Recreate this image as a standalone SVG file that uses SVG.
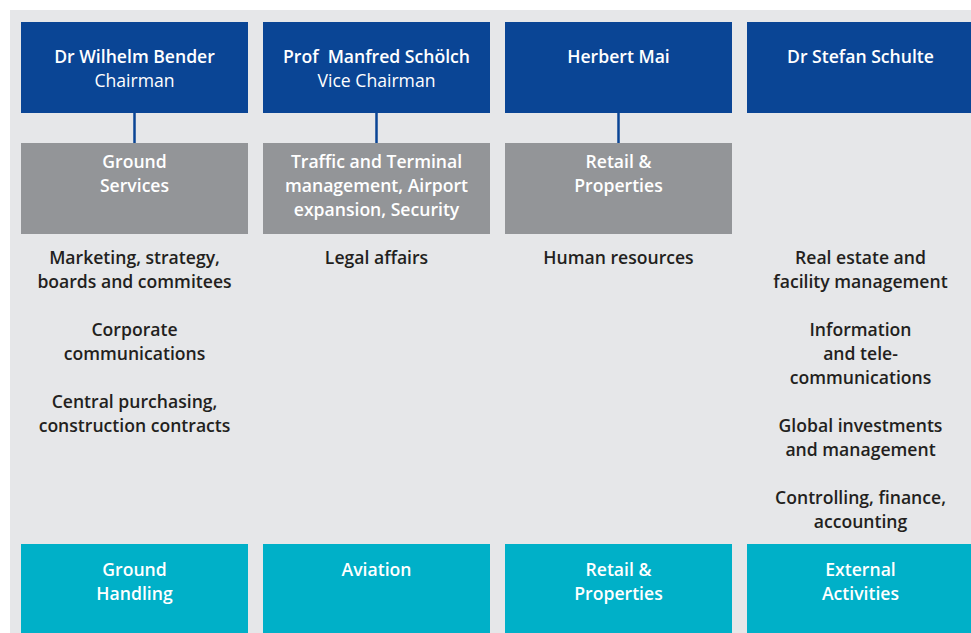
<svg xmlns="http://www.w3.org/2000/svg" width="971" height="633" viewBox="0 0 971 633">
  <style>
    .head { fill: #0a4595; }
    .unit { fill: #939598; }
    .seg { fill: #00b0c8; }
    text { font-family: "Open Sans", "Liberation Sans", sans-serif; font-size: 17.6px; text-anchor: middle; white-space: pre; }
    .w { fill: #ffffff; font-weight: 600; }
    .wl { fill: #ffffff; font-weight: 400; }
    .d { fill: #231f20; font-weight: 600; }
    .link { stroke: #0a4595; stroke-width: 2.5; fill: none; }
  </style>
  <rect x="0" y="0" width="971" height="633" fill="#ffffff"/>
  <rect x="10" y="10" width="961" height="623" fill="#e6e7e9"/>

  <g id="connectors">
    <line class="link" x1="134.5" y1="113" x2="134.5" y2="143"/>
    <line class="link" x1="376.5" y1="113" x2="376.5" y2="143"/>
    <line class="link" x1="618.5" y1="113" x2="618.5" y2="143"/>
  </g>

  <!-- Board members -->
  <g id="bender">
    <rect class="head" x="21" y="22" width="227" height="91"/>
    <text class="w" x="134.5" y="62.5">Dr Wilhelm Bender</text>
    <text class="wl" x="134.5" y="86.5">Chairman</text>
  </g>
  <g id="schoelch">
    <rect class="head" x="263" y="22" width="227" height="91"/>
    <text class="w" x="376.5" y="62.5" xml:space="preserve">Prof  Manfred Schölch</text>
    <text class="wl" x="376.5" y="86.5">Vice Chairman</text>
  </g>
  <g id="mai">
    <rect class="head" x="505" y="22" width="227" height="91"/>
    <text class="w" x="618.5" y="62.5">Herbert Mai</text>
  </g>
  <g id="schulte">
    <rect class="head" x="747" y="22" width="227" height="91"/>
    <text class="w" x="860.5" y="62.5">Dr Stefan Schulte</text>
  </g>

  <!-- Service units -->
  <g id="ground-services">
    <rect class="unit" x="21" y="143" width="227" height="91"/>
    <text class="w" x="134.5" y="167.5">Ground</text>
    <text class="w" x="134.5" y="191.5">Services</text>
  </g>
  <g id="traffic-terminal">
    <rect class="unit" x="263" y="143" width="227" height="91"/>
    <text class="w" x="376.5" y="167.5">Traffic and Terminal</text>
    <text class="w" x="376.5" y="191.5">management, Airport</text>
    <text class="w" x="376.5" y="215.5">expansion, Security</text>
  </g>
  <g id="retail-properties-unit">
    <rect class="unit" x="505" y="143" width="227" height="91"/>
    <text class="w" x="618.5" y="167.5">Retail &amp;</text>
    <text class="w" x="618.5" y="191.5">Properties</text>
  </g>

  <!-- Central functions -->
  <g id="functions-bender">
    <text class="d" x="134.5" y="263.5">Marketing, strategy,</text>
    <text class="d" x="134.5" y="287.5">boards and commitees</text>
    <text class="d" x="134.5" y="335.5">Corporate</text>
    <text class="d" x="134.5" y="359.5">communications</text>
    <text class="d" x="134.5" y="407.5">Central purchasing,</text>
    <text class="d" x="134.5" y="431.5">construction contracts</text>
  </g>
  <g id="functions-schoelch">
    <text class="d" x="376.5" y="263.5">Legal affairs</text>
  </g>
  <g id="functions-mai">
    <text class="d" x="618.5" y="263.5">Human resources</text>
  </g>
  <g id="functions-schulte">
    <text class="d" x="860.5" y="263.5">Real estate and</text>
    <text class="d" x="860.5" y="287.5">facility management</text>
    <text class="d" x="860.5" y="335.5">Information</text>
    <text class="d" x="860.5" y="359.5">and tele-</text>
    <text class="d" x="860.5" y="383.5">communications</text>
    <text class="d" x="860.5" y="431.5">Global investments</text>
    <text class="d" x="860.5" y="455.5">and management</text>
    <text class="d" x="860.5" y="503.5">Controlling, finance,</text>
    <text class="d" x="860.5" y="527.5">accounting</text>
  </g>

  <!-- Business segments -->
  <g id="ground-handling">
    <rect class="seg" x="21" y="544" width="227" height="89"/>
    <text class="w" x="134.5" y="575.5">Ground</text>
    <text class="w" x="134.5" y="599.5">Handling</text>
  </g>
  <g id="aviation">
    <rect class="seg" x="263" y="544" width="227" height="89"/>
    <text class="w" x="376.5" y="575.5">Aviation</text>
  </g>
  <g id="retail-properties-segment">
    <rect class="seg" x="505" y="544" width="227" height="89"/>
    <text class="w" x="618.5" y="575.5">Retail &amp;</text>
    <text class="w" x="618.5" y="599.5">Properties</text>
  </g>
  <g id="external-activities">
    <rect class="seg" x="747" y="544" width="227" height="89"/>
    <text class="w" x="860.5" y="575.5">External</text>
    <text class="w" x="860.5" y="599.5">Activities</text>
  </g>
</svg>
